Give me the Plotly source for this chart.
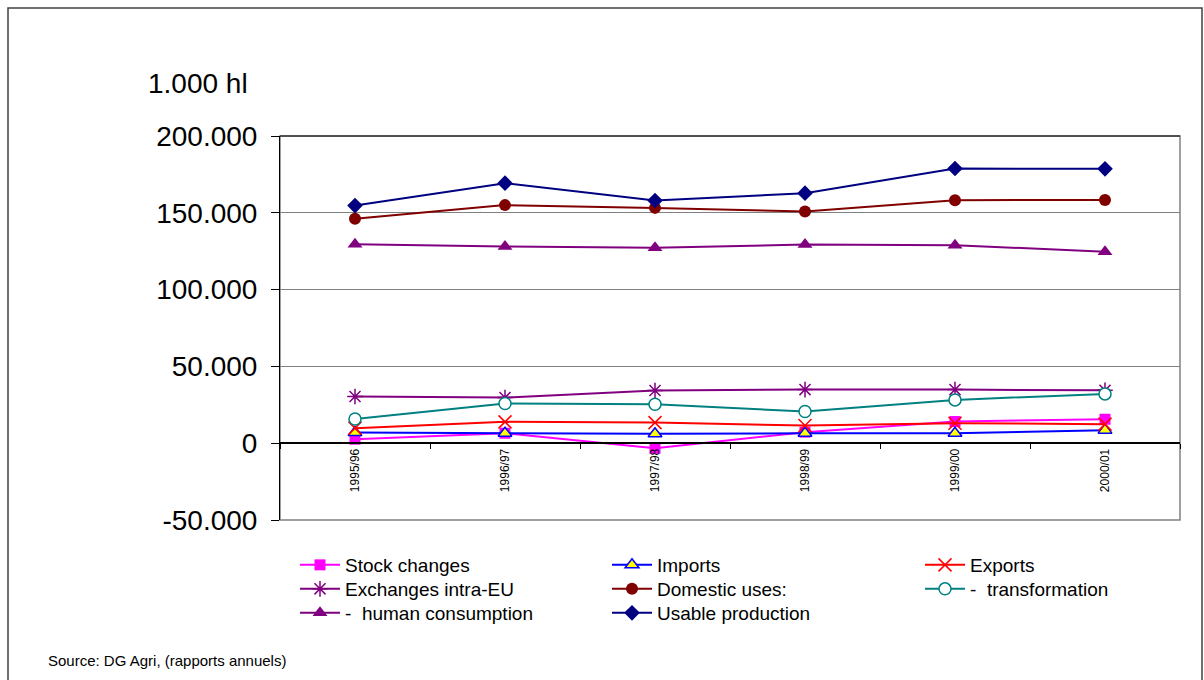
import plotly.graph_objects as go

years = ["1995/96", "1996/97", "1997/98", "1998/99", "1999/00", "2000/01"]

stock_changes = [2600, 6500, -3300, 7200, 14100, 15600]
imports = [6900, 6500, 6100, 6500, 6500, 8500]
exports = [9800, 13900, 13400, 11500, 13000, 12400]
exchanges_intra_eu = [30400, 29700, 34300, 34900, 34900, 34400]
domestic_uses = [146200, 155000, 153200, 150800, 158200, 158400]
transformation = [15800, 25800, 25400, 20600, 28200, 32100]
human_consumption = [129600, 128000, 127300, 129300, 128900, 124700]
usable_production = [154700, 169300, 158000, 162800, 178800, 178600]

y_tickvals = [-50000, 0, 50000, 100000, 150000, 200000]
y_ticktext = ["-50.000", "0", "50.000", "100.000", "150.000", "200.000"]

FONT = "Liberation Sans, Arial, sans-serif"

series = [
    ("Stock changes", stock_changes, "#FF00FF", dict(symbol="square", size=11, color="#FF00FF", line=dict(width=0))),
    ("Imports", imports, "#0000FF", dict(symbol="triangle-up", size=12, color="#FFFF00", line=dict(color="#0000FF", width=1.5))),
    ("Exports", exports, "#FF0000", dict(symbol="x-thin-open", size=13, color="#FF0000", line=dict(color="#FF0000", width=1.5))),
    ("Exchanges intra-EU", exchanges_intra_eu, "#800080", dict(symbol="asterisk-open", size=13, color="#800080", line=dict(color="#800080", width=1.5))),
    ("Domestic uses:", domestic_uses, "#800000", dict(symbol="circle", size=12, color="#800000", line=dict(width=0))),
    ("-  transformation", transformation, "#008080", dict(symbol="circle", size=12, color="#FFFFFF", line=dict(color="#008080", width=1.5))),
    ("-  human consumption", human_consumption, "#800080", dict(symbol="triangle-up", size=13, color="#800080", line=dict(width=0))),
    ("Usable production", usable_production, "#000080", dict(symbol="diamond", size=12, color="#000080", line=dict(width=0))),
]

# legend grid: 3 columns, row-major order
col_px = [300, 612, 925]
row_px = [565, 589, 613]

fig = go.Figure()
legend_layouts = {}
for i, (name, vals, col, mk) in enumerate(series):
    lname = "legend" if i == 0 else f"legend{i + 1}"
    fig.add_trace(go.Scatter(
        x=years, y=vals, name=name, mode="lines+markers",
        line=dict(color=col, width=2), marker=mk, cliponaxis=False,
        legend=lname,
    ))
    r, c = divmod(i, 3)
    legend_layouts[lname] = dict(
        x=(col_px[c] - 5 - 280) / 900, y=(520 - row_px[r]) / 384,
        xanchor="left", yanchor="middle", orientation="v",
        font=dict(size=19, family=FONT), itemwidth=40,
        bgcolor="rgba(0,0,0,0)", borderwidth=0,
    )

fig.update_layout(
    width=1204, height=680,
    margin=dict(l=280, r=24, t=136, b=160),
    paper_bgcolor="white", plot_bgcolor="white",
    font=dict(family=FONT, color="black"),
    showlegend=True,
    xaxis=dict(
        type="category", categoryorder="array", categoryarray=years,
        range=[-0.5, 5.5], anchor="free", position=0.2,
        showline=True, linecolor="black", linewidth=1.5,
        ticks="outside", tickson="boundaries", ticklen=5, tickcolor="black",
        tickangle=-90, tickfont=dict(size=12, family=FONT),
        showgrid=False, zeroline=False, fixedrange=True,
    ),
    yaxis=dict(
        range=[-50000, 200000], tickvals=y_tickvals, ticktext=y_ticktext,
        showline=True, linecolor="black", linewidth=1,
        ticks="outside", ticklen=8, tickcolor="black",
        tickfont=dict(size=28, family=FONT), ticklabelstandoff=8,
        showgrid=True, gridcolor="#808080", gridwidth=1,
        zeroline=False,
    ),
    shapes=[
        dict(type="rect", xref="paper", yref="paper", x0=0, x1=1, y0=0, y1=1,
             line=dict(color="#808080", width=1.5), layer="below"),
        dict(type="line", xref="paper", yref="paper", x0=0, x1=1, y0=1, y1=1,
             line=dict(color="black", width=1)),
        dict(type="rect", xref="paper", yref="paper",
             x0=(8 - 280) / 900, x1=(1202 - 280) / 900,
             y0=(520 - 700) / 384, y1=(520 - 8) / 384,
             line=dict(color="#404040", width=1.5)),
    ],
    annotations=[
        dict(text="1.000 hl", xref="paper", yref="paper",
             x=(198 - 280) / 900, y=(520 - 83) / 384,
             xanchor="center", yanchor="middle", showarrow=False,
             font=dict(size=28, family=FONT)),
        dict(text="Source: DG Agri, (rapports annuels)", xref="paper", yref="paper",
             x=(46 - 280) / 900, y=(520 - 660) / 384,
             xanchor="left", yanchor="middle", showarrow=False,
             font=dict(size=15, family=FONT)),
    ],
    **legend_layouts,
)

fig.write_html(
    "out.html",
    post_script="document.body.style.margin='0';document.body.style.overflow='hidden';",
)
